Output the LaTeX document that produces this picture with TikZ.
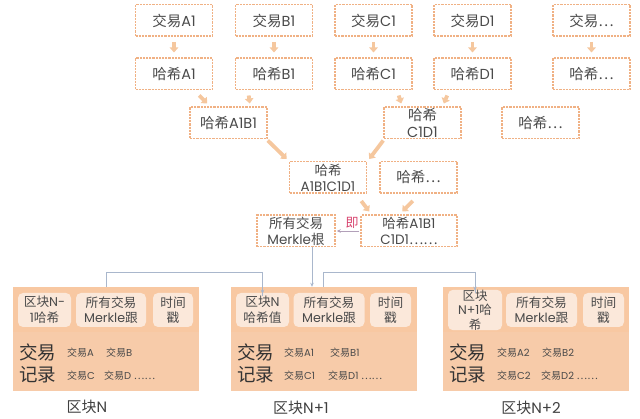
\documentclass[tikz,border=0pt]{standalone}
\usepackage{fontspec}
\setmainfont{Poppins}
\newfontfamily\cjf{Noto Sans CJK SC}
\newcommand{\C}[1]{{\cjf #1}}
\usetikzlibrary{arrows.meta,calc}
\definecolor{dashc}{HTML}{F0B184}
\definecolor{fatc}{HTML}{F5C79E}
\definecolor{blockc}{HTML}{F8C8A2}
\definecolor{lowc}{HTML}{F7CBA9}
\definecolor{innerc}{HTML}{FBE8DA}
\definecolor{textc}{HTML}{4A4A4A}
\definecolor{linkc}{HTML}{A9B7CC}
\definecolor{jic}{HTML}{D8456F}
\tikzset{
 x=1pt,y=-1pt,
 every node/.style={text=textc,inner sep=0pt},
 hashbox/.style={draw=dashc,line width=1.5pt,dash pattern=on 2.2pt off 1pt,fill=white,
   minimum width=77pt,minimum height=31.5pt,align=center,font=\fontsize{14.5}{16.5}\selectfont},
 fat/.style={draw=fatc,line width=3.8pt,-{Triangle[length=5pt,width=8.5pt]}},
 link/.style={draw=linkc,line width=0.8pt,-{Stealth[length=4pt,width=3.5pt]}},
 blockbg/.style={fill=blockc,minimum width=186pt,minimum height=46pt},
 lowbg/.style={fill=lowc,minimum width=186pt,minimum height=59pt},
 cellbox/.style={fill=innerc,rounded corners=5pt,minimum height=34pt,align=center,
   font=\fontsize{12.7}{15.5}\selectfont},
 bigtxt/.style={font=\fontsize{18.5}{20}\selectfont,text=black!80,anchor=west},
 smalltxt/.style={font=\fontsize{10}{12}\selectfont,anchor=west},
 caption/.style={font=\fontsize{15}{16}\selectfont,text=black!75},
}
\begin{document}
\begin{tikzpicture}
\useasboundingbox (0,0) rectangle (640,419);
% transactions
\node[hashbox] (ta) at (174,20.5) {\C{交易}A1};
\node[hashbox] (tb) at (274,20.5) {\C{交易}B1};
\node[hashbox] (tc) at (373.5,20.5) {\C{交易}C1};
\node[hashbox] (td) at (472.5,20.5) {\C{交易}D1};
\node[hashbox] (te) at (591.5,20.5) {\C{交易…}};
% hashes
\node[hashbox] (ha) at (174,74) {\C{哈希}A1};
\node[hashbox] (hb) at (274,74) {\C{哈希}B1};
\node[hashbox] (hc) at (373.5,74) {\C{哈希}C1};
\node[hashbox] (hd) at (472.5,74) {\C{哈希}D1};
\node[hashbox] (he) at (591.5,74) {\C{哈希…}};
% second level
\node[hashbox] (hab) at (228.5,123) {\C{哈希}A1B1};
\node[hashbox] (hcd) at (422.5,123) {\C{哈希}\\C1D1};
\node[hashbox] (hx) at (540.5,123) {\C{哈希…}};
% third level
\node[hashbox,font=\fontsize{13.5}{16}\selectfont] (habcd) at (328,177.5) {\C{哈希}\\A1B1C1D1};
\node[hashbox] (hy) at (418.5,177.5) {\C{哈希…}};
% root
\node[hashbox,minimum width=78pt,font=\fontsize{13.5}{16}\selectfont] (root) at (296,231) {\C{所有交易}\\Merkle\C{根}};
\node[hashbox,minimum width=96pt,font=\fontsize{13.5}{16}\selectfont] (all) at (409,231) {\C{哈希}A1B1\\C1D1\C{……}};
\node[font=\fontsize{13}{15}\selectfont,text=jic] (ji) at (352,222.5) {\C{即}};
% straight arrows
\foreach \a/\b in {ta/ha,tb/hb,tc/hc,td/hd,te/he}
  \draw[fat,shorten <=5pt,shorten >=5pt] (\a.south) -- (\b.north);
% diagonal arrows
\draw[fat] ([shift={(-14,5)}]ha.south east) -- ([shift={(18,-3)}]hab.north west);
\draw[fat] ([shift={(14,5)}]hb.south west) -- ([shift={(-18,-3)}]hab.north east);
\draw[fat] ([shift={(-14,5)}]hc.south east) -- ([shift={(18,-3)}]hcd.north west);
\draw[fat] ([shift={(14,5)}]hd.south west) -- ([shift={(-18,-3)}]hcd.north east);
\draw[fat] ([shift={(0,1)}]hab.south east) -- ([shift={(-2,-2)}]habcd.north west);
\draw[fat] ([shift={(0,1)}]hcd.south west) -- ([shift={(2,-2)}]habcd.north east);
\draw[fat] ([shift={(-6,7)}]habcd.south east) -- ([shift={(9,-3)}]all.north west);
\draw[fat] ([shift={(-45,7)}]hy.south east) -- ([shift={(42,-3)}]all.north west);
% "equals" link
\draw[link,line width=0.7pt,draw=linkc!80!jic] ([xshift=-1pt]all.west) -- ([xshift=1pt]root.east);
% block N
\node[blockbg] (bn) at (106,310) {};
\node[lowbg] (ln) at (106,361.5) {};
\node[cellbox,minimum width=53pt] (n1) at (44.5,310) {\C{区块}N-\\1\C{哈希}};
\node[cellbox,minimum width=70pt] (n2) at (111,310) {\C{所有交易}\\Merkle\C{跟}};
\node[cellbox,minimum width=40pt] (n3) at (173,310) {\C{时间}\\\C{戳}};
\node[bigtxt] (n4) at (19,352) {\C{交易}};
\node[bigtxt] (n5) at (19,374.5) {\C{记录}};
\node[smalltxt] (n6) at (67,353) {\C{交易}A};
\node[smalltxt] (n7) at (106,353) {\C{交易}B};
\node[smalltxt] (n8) at (67,376) {\C{交易}C};
\node[smalltxt] (n9) at (104,376) {\C{交易}D \C{……}};
\node[caption] (c1) at (87,406.5) {\C{区块}N};
% block N+1
\node[blockbg] (bo) at (324,310) {};
\node[lowbg] (lo) at (324,361.5) {};
\node[cellbox,minimum width=53pt] (o1) at (262.5,310) {\C{区块}N\\\C{哈希值}};
\node[cellbox,minimum width=71pt] (o2) at (329,310) {\C{所有交易}\\Merkle\C{跟}};
\node[cellbox,minimum width=41pt] (o3) at (390.5,310) {\C{时间}\\\C{戳}};
\node[bigtxt] (o4) at (237,352) {\C{交易}};
\node[bigtxt] (o5) at (237,374.5) {\C{记录}};
\node[smalltxt] (o6) at (284,353) {\C{交易}A1};
\node[smalltxt] (o7) at (330,353) {\C{交易}B1};
\node[smalltxt] (o8) at (284,376) {\C{交易}C1};
\node[smalltxt] (o9) at (328,376) {\C{交易}D1 \C{……}};
\node[caption] (c2) at (301,407.5) {\C{区块}N+1};
% block N+2
\node[blockbg] (bp) at (536,310) {};
\node[lowbg] (lp) at (536,361.5) {};
\node[cellbox,minimum width=54pt,font=\fontsize{12.5}{14.5}\selectfont] (p1) at (475,310) {\C{区块}\\N+1\C{哈}\\\C{希}};
\node[cellbox,minimum width=71pt] (p2) at (541.5,310) {\C{所有交易}\\Merkle\C{跟}};
\node[cellbox,minimum width=41pt] (p3) at (603.5,310) {\C{时间}\\\C{戳}};
\node[bigtxt] (p4) at (449,352) {\C{交易}};
\node[bigtxt] (p5) at (449,374.5) {\C{记录}};
\node[smalltxt] (p6) at (497,353) {\C{交易}A2};
\node[smalltxt] (p7) at (542,353) {\C{交易}B2};
\node[smalltxt] (p8) at (497,376) {\C{交易}C2};
\node[smalltxt] (p9) at (541,376) {\C{交易}D2 \C{……}};
\node[caption] (c3) at (531,407.5) {\C{区块}N+2};
% links between blocks
\coordinate (lk1) at (106,272);
\coordinate (lk2) at (323,272);
\draw[link] ([xshift=16pt]root.south) -- ([xshift=16pt]root.south |- bo.north);
\draw[draw=linkc,line width=0.8pt] (lk1 |- bn.north) -- (lk1) -| ([yshift=-3pt]o1.north);
\draw[link] (lk1 -| o1) -- ([yshift=-1pt]o1.north);
\draw[draw=linkc,line width=0.8pt] (lk2 |- bo.north) -- (lk2) -| ([yshift=-3pt]p1.north);
\draw[link] (lk2 -| p1) -- ([yshift=-1pt]p1.north);
\end{tikzpicture}
\end{document}
